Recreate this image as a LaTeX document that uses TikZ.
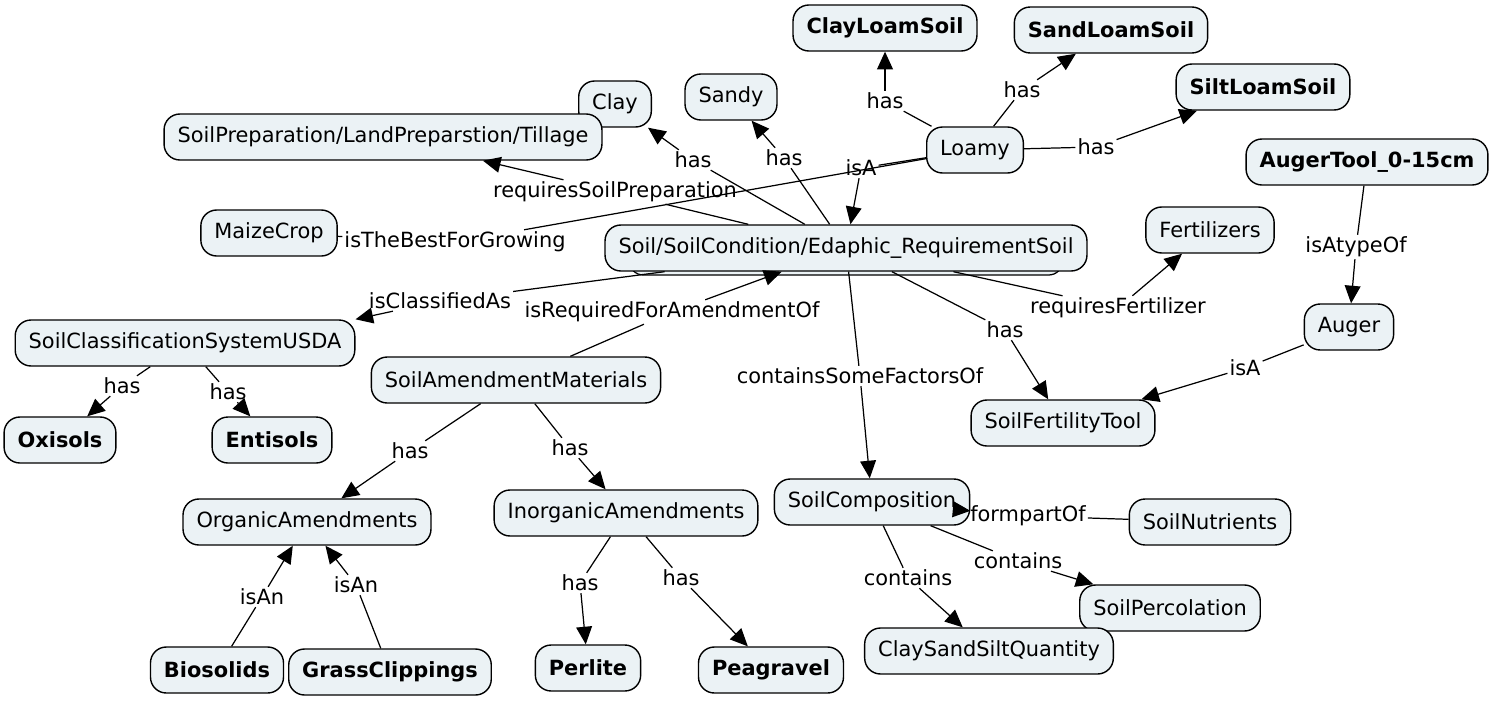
\documentclass[tikz,border=0pt]{standalone}
\usepackage{fontspec}
\setmainfont{DejaVu Sans}
\usepackage{tikz}
\usetikzlibrary{arrows.meta, shadows}
\definecolor{boxfill}{HTML}{EBF2F5}

\begin{document}
\begin{tikzpicture}[
  x=0.02cm, y=-0.02cm,
  concept/.style={rectangle, rounded corners=9pt, minimum height=0.92cm,
                  inner xsep=0.27cm, fill=boxfill, draw=black, line width=0.8pt,
                  font=\fontsize{11.9}{14}\selectfont},
  keyconcept/.style={concept, font=\fontsize{11.9}{14}\selectfont\bfseries},
  lbl/.style={inner sep=1pt, font=\fontsize{11.9}{14}\selectfont},
  lnk/.style={black, line width=0.7pt},
  arr/.style={lnk, -{Triangle[length=10pt, width=9pt]}},
]
  \useasboundingbox (0,0) rectangle (1500,703);

  % concepts
  \node[keyconcept] (claylm)  at (885,28)   {ClayLoamSoil};
  \node[keyconcept] (sandlm)  at (1111,30)  {SandLoamSoil};
  \node[keyconcept] (siltlm)  at (1263,87)  {SiltLoamSoil};
  \node[concept]    (clay)    at (615,104)  {Clay};
  \node[concept]    (sandy)   at (731,97)   {Sandy};
  \node[concept]    (prep)    at (383,137)  {SoilPreparation/LandPreparstion/Tillage};
  \node[concept]    (loamy)   at (975,150)  {Loamy};
  \node[keyconcept] (augtool) at (1367,162) {AugerTool\_0-15cm};
  \node[concept]    (maize)   at (269,233)  {MaizeCrop};
  \node[concept, copy shadow={shadow xshift=0pt, shadow yshift=-0.14cm,
        shadow scale=0.9, fill=boxfill, draw=black, line width=0.8pt}]
                    (soil)    at (846,248)  {Soil/SoilCondition/Edaphic\_RequirementSoil};
  \node[concept]    (fert)    at (1210,230) {Fertilizers};
  \node[concept]    (usda)    at (185,343)  {SoilClassificationSystemUSDA};
  \node[concept]    (auger)   at (1349,327) {Auger};
  \node[concept]    (amend)   at (516,380)  {SoilAmendmentMaterials};
  \node[keyconcept] (oxi)     at (60,440)   {Oxisols};
  \node[keyconcept] (enti)    at (272,440)  {Entisols};
  \node[concept]    (tool)    at (1063,423) {SoilFertilityTool};
  \node[concept]    (organic) at (307,522)  {OrganicAmendments};
  \node[concept]    (inorg)   at (626,513)  {InorganicAmendments};
  \node[concept]    (comp)    at (872,502)  {SoilComposition};
  \node[concept]    (nutri)   at (1210,522) {SoilNutrients};
  \node[concept]    (perc)    at (1170,608) {SoilPercolation};
  \node[concept]    (quant)   at (989,651)  {ClaySandSiltQuantity};
  \node[keyconcept] (bio)     at (217,670)  {Biosolids};
  \node[keyconcept] (grass)   at (390,672)  {GrassClippings};
  \node[keyconcept] (perl)    at (588,668)  {Perlite};
  \node[keyconcept] (pea)     at (771,670)  {Peagravel};

  % linking phrases
  \node[lbl] (hasClayLm) at (885,101)  {has};
  \node[lbl] (hasSandLm) at (1022,90)  {has};
  \node[lbl] (hasSiltLm) at (1096,147) {has};
  \node[lbl] (isALoamy)  at (861,168)  {isA};
  \node[lbl] (hasClay)   at (693,160)  {has};
  \node[lbl] (hasSandy)  at (784,158)  {has};
  \node[lbl] (reqPrep)   at (615,192)  {requiresSoilPreparation};
  \node[lbl] (bestGrow)  at (455,242)  {isTheBestForGrowing};
  \node[lbl] (classAs)   at (440,301)  {isClassifiedAs};
  \node[lbl] (reqAmend)  at (672,312)  {isRequiredForAmendmentOf};
  \node[lbl] (factors)   at (860,376)  {containsSomeFactorsOf};
  \node[lbl] (hasTool)   at (1005,330) {has};
  \node[lbl] (reqFert)   at (1118,308) {requiresFertilizer};
  \node[lbl] (typeOf)    at (1356,247) {isAtypeOf};
  \node[lbl] (isAAuger)  at (1245,368) {isA};
  \node[lbl] (hasOxi)    at (122,386)  {has};
  \node[lbl] (hasEnti)   at (228,392)  {has};
  \node[lbl] (hasOrg)    at (410,451)  {has};
  \node[lbl] (hasInorg)  at (570,448)  {has};
  \node[lbl] (isAnBio)   at (262,597)  {isAn};
  \node[lbl] (isAnGrass) at (356,585)  {isAn};
  \node[lbl] (hasPerl)   at (580,583)  {has};
  \node[lbl] (hasPea)    at (681,578)  {has};
  \node[lbl] (formPart)  at (1028,516) {formpartOf};
  \node[lbl] (contPerc)  at (1018,561) {contains};
  \node[lbl] (contQuant) at (908,578)  {contains};

  % connectors
  \draw[lnk] (loamy) -- (hasClayLm);  \draw[arr] (hasClayLm) -- (claylm);
  \draw[lnk] (loamy) -- (hasSandLm);  \draw[arr] (hasSandLm) -- (sandlm);
  \draw[lnk] (loamy) -- (hasSiltLm);  \draw[arr] (hasSiltLm) -- (siltlm);
  \draw[lnk] (loamy) -- (isALoamy);   \draw[arr] (isALoamy) -- (soil);
  \draw[lnk] (soil) -- (hasClay);     \draw[arr] (hasClay) -- (clay);
  \draw[lnk] (soil) -- (hasSandy);    \draw[arr] (hasSandy) -- (sandy);
  \draw[lnk] (soil) -- (reqPrep);     \draw[arr] (reqPrep) -- (prep);
  \draw[lnk] (maize) -- (bestGrow);   \draw[lnk] (bestGrow) -- (loamy);
  \draw[lnk] (soil) -- (classAs);     \draw[arr] (classAs) -- (usda.north east);
  \draw[lnk] (amend) -- (reqAmend);   \draw[arr] (reqAmend) -- (soil);
  \draw[lnk] (soil) -- (factors);     \draw[arr] (factors) -- (comp);
  \draw[lnk] (soil) -- (hasTool);     \draw[arr] (hasTool) -- (tool);
  \draw[lnk] (soil) -- (reqFert);     \draw[arr] (reqFert) -- (fert);
  \draw[lnk] (augtool) -- (typeOf);   \draw[arr] (typeOf) -- (auger);
  \draw[lnk] (auger) -- (isAAuger);   \draw[arr] (isAAuger) -- (tool);
  \draw[lnk] (usda) -- (hasOxi);      \draw[arr] (hasOxi) -- (oxi);
  \draw[lnk] (usda) -- (hasEnti);     \draw[arr] (hasEnti) -- (enti);
  \draw[lnk] (amend) -- (hasOrg);     \draw[arr] (hasOrg) -- (organic);
  \draw[lnk] (amend) -- (hasInorg);   \draw[arr] (hasInorg) -- (inorg);
  \draw[lnk] (bio) -- (isAnBio);      \draw[arr] (isAnBio) -- (organic);
  \draw[lnk] (grass) -- (isAnGrass);  \draw[arr] (isAnGrass) -- (organic);
  \draw[lnk] (inorg) -- (hasPerl);    \draw[arr] (hasPerl) -- (perl);
  \draw[lnk] (inorg) -- (hasPea);     \draw[arr] (hasPea) -- (pea);
  \draw[lnk] (nutri) -- (formPart);   \draw[arr] (formPart) -- (comp);
  \draw[lnk] (comp) -- (contPerc);    \draw[arr] (contPerc) -- (perc);
  \draw[lnk] (comp) -- (contQuant);   \draw[arr] (contQuant) -- (quant);
\end{tikzpicture}
\end{document}
